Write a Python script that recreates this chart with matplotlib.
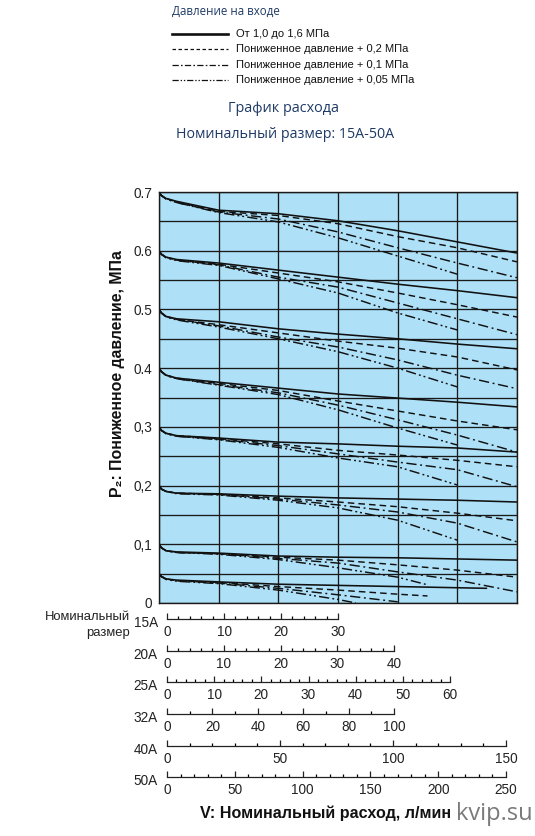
import matplotlib
matplotlib.use("Agg")
import matplotlib.pyplot as plt
from matplotlib.lines import Line2D

# ---------------- data ----------------
X_PTS = [0, 0.04, 0.12, 0.3, 1, 2, 3, 4, 5, 6]        # chart columns (grid units)
SET_PRESSURES = [0.7, 0.6, 0.5, 0.4, 0.3, 0.2, 0.1, 0.05]

G70 = {"solid":   [0.700, 0.694, 0.689, 0.684, 0.669, 0.663, 0.651, 0.634, 0.615, 0.596],
       "dashed":  [0.700, 0.694, 0.689, 0.683, 0.667, 0.660, 0.646, 0.624, 0.605, 0.581],
       "dashdot": [0.700, 0.694, 0.688, 0.682, 0.666, 0.654, 0.632, 0.605, 0.579, 0.554],
       "ddot":    [0.700, 0.694, 0.688, 0.682, 0.665, 0.649, 0.622, 0.591, 0.560]}
G60 = {"solid":   [0.600, 0.594, 0.589, 0.585, 0.579, 0.567, 0.555, 0.543, 0.532, 0.520],
       "dashed":  [0.600, 0.594, 0.589, 0.584, 0.577, 0.562, 0.547, 0.528, 0.508, 0.487],
       "dashdot": [0.600, 0.594, 0.588, 0.584, 0.576, 0.555, 0.538, 0.511, 0.484, 0.457],
       "ddot":    [0.600, 0.594, 0.588, 0.583, 0.575, 0.552, 0.528, 0.494, 0.465]}
G50 = {"solid":   [0.500, 0.494, 0.488, 0.484, 0.479, 0.467, 0.458, 0.450, 0.441, 0.433],
       "dashed":  [0.500, 0.494, 0.488, 0.483, 0.474, 0.460, 0.446, 0.434, 0.419, 0.397],
       "dashdot": [0.500, 0.494, 0.488, 0.483, 0.472, 0.453, 0.436, 0.414, 0.388, 0.365],
       "ddot":    [0.500, 0.494, 0.487, 0.482, 0.470, 0.450, 0.428, 0.400, 0.368]}
G40 = {"solid":   [0.400, 0.394, 0.388, 0.383, 0.376, 0.366, 0.356, 0.349, 0.342, 0.334],
       "dashed":  [0.400, 0.394, 0.388, 0.383, 0.374, 0.362, 0.344, 0.327, 0.310, 0.295],
       "dashdot": [0.400, 0.394, 0.388, 0.382, 0.372, 0.358, 0.337, 0.312, 0.286, 0.257],
       "ddot":    [0.400, 0.394, 0.387, 0.382, 0.371, 0.355, 0.329, 0.298, 0.269]}
G30 = {"solid":   [0.300, 0.294, 0.289, 0.285, 0.281, 0.274, 0.271, 0.267, 0.264, 0.257],
       "dashed":  [0.300, 0.294, 0.289, 0.285, 0.280, 0.271, 0.260, 0.252, 0.243, 0.232],
       "dashdot": [0.300, 0.294, 0.289, 0.284, 0.279, 0.268, 0.254, 0.240, 0.227, 0.198],
       "ddot":    [0.300, 0.294, 0.288, 0.284, 0.278, 0.265, 0.247, 0.232, 0.201]}
G20 = {"solid":   [0.200, 0.194, 0.190, 0.187, 0.186, 0.182, 0.179, 0.177, 0.175, 0.172],
       "dashed":  [0.200, 0.194, 0.190, 0.187, 0.185, 0.179, 0.172, 0.164, 0.153, 0.140],
       "dashdot": [0.200, 0.194, 0.190, 0.187, 0.185, 0.177, 0.167, 0.155, 0.136, 0.104],
       "ddot":    [0.200, 0.194, 0.190, 0.186, 0.184, 0.175, 0.162, 0.141, 0.107]}
G10 = {"solid":   [0.100, 0.094, 0.089, 0.087, 0.085, 0.080, 0.078, 0.077, 0.075, 0.073],
       "dashed":  [0.100, 0.094, 0.089, 0.086, 0.084, 0.078, 0.073, 0.065, 0.056, 0.044],
       "dashdot": [0.100, 0.094, 0.089, 0.086, 0.084, 0.076, 0.068, 0.053, 0.039, 0.019],
       "ddot":    [0.100, 0.094, 0.089, 0.086, 0.083, 0.074, 0.060, 0.044]}
G05 = {"solid":   [0.050, 0.045, 0.041, 0.039, 0.036, 0.032, 0.030, 0.028, 0.026],
       "dashed":  [0.050, 0.045, 0.041, 0.038, 0.035, 0.028, 0.022, 0.015],
       "dashdot": [0.050, 0.045, 0.041, 0.038, 0.034, 0.025, 0.014, 0.002],
       "ddot":    [0.050, 0.045, 0.040, 0.037, 0.033, 0.022, 0.006]}
# curves that end between grid columns: (end column, end pressure)
END_POINTS = {(0.1, "ddot"): (4.5, 0.031),
              (0.05, "solid"): (5.5, 0.025),
              (0.05, "dashed"): (4.5, 0.012),
              (0.05, "ddot"): (3.3, 0.000)}
GROUPS = [G70, G60, G50, G40, G30, G20, G10, G05]

Y_TICKS = [0, 0.1, 0.2, 0.3, 0.4, 0.5, 0.6, 0.7]
Y_TICK_LABELS = ["0", "0,1", "0,2", "0,3", "0.4", "0.5", "0.6", "0.7"]

SIZES = ["15A", "20A", "25A", "32A", "40A", "50A"]
SCALE_MAX = [30, 40, 60, 100, 150, 250]
SCALE_MAJOR = [10, 10, 10, 20, 50, 50]
SCALE_MINOR = [2, 2, 2, 10, 10, 10]

LEGEND_LABELS = ["От 1,0 до 1,6 МПа",
                 "Пониженное давление + 0,2 МПа",
                 "Пониженное давление + 0,1 МПа",
                 "Пониженное давление + 0,05 МПа"]

# ---------------- styles ----------------
W, H = 535, 836
BG = "#aee0f7"
NAVY = "#1e3a66"
STYLES = {"solid": dict(ls="-", lw=1.15),
          "dashed": dict(ls=(0, (4.5, 2.8)), lw=1.05),
          "dashdot": dict(ls=(0, (7, 2.5, 1.3, 2.5)), lw=1.05),
          "ddot": dict(ls=(0, (7, 2.2, 1.3, 2.0, 1.3, 2.2)), lw=1.05)}
ORDER = ["ddot", "dashdot", "dashed", "solid"]
SANS = ["Liberation Sans", "DejaVu Sans"]
OPEN = ["Open Sans", "DejaVu Sans"]


def fx(px):
    return px / W


def fy(py):
    return 1 - py / H


fig = plt.figure(figsize=(W / 100, H / 100), dpi=100)

# ---------------- main chart ----------------
L, R, T, B = 159, 517, 192, 603
ax = fig.add_axes([fx(L), fy(B), fx(R) - fx(L), fy(T) - fy(B)])
ax.set_facecolor(BG)
ax.set_xlim(0, 6)
ax.set_ylim(0, 0.7)
ax.set_yticks(Y_TICKS)
ax.set_yticklabels(Y_TICK_LABELS, family=SANS, fontsize=9.8, color="#222")
ax.set_yticks([0.05 + 0.1 * i for i in range(7)], minor=True)
ax.set_xticks(range(7))
ax.tick_params(axis="both", which="both", length=0)
ax.tick_params(axis="y", pad=5)
ax.tick_params(axis="x", labelbottom=False)
ax.grid(True, which="both", color="#1a1a1a", lw=0.95)
ax.set_axisbelow(True)
for s in ax.spines.values():
    s.set_color("#1a1a1a")
    s.set_linewidth(1.0)

for p, grp in zip(SET_PRESSURES, GROUPS):
    for key in ORDER:
        ys = list(grp[key])
        xs = list(X_PTS[:len(ys)])
        if (p, key) in END_POINTS:
            ex, ey = END_POINTS[(p, key)]
            xs.append(ex)
            ys.append(ey)
        ax.plot(xs, ys, color="#111", solid_capstyle="butt",
                dash_capstyle="butt", **STYLES[key])

fig.text(fx(118), fy(374), "P₂: Пониженное давление, МПа", rotation=90,
         ha="center", va="center", fontsize=11.4, fontweight="bold",
         family=SANS, color="#111")

# ---------------- flow scales ----------------
S0 = 167
BASE_Y = [619, 651, 682, 714, 746, 777]
END_X = [338, 394, 450, 394, 506, 506]
for name, mx, mj, mn, by, ex in zip(SIZES, SCALE_MAX, SCALE_MAJOR, SCALE_MINOR,
                                     BASE_Y, END_X):
    sa = fig.add_axes([fx(S0), fy(by), fx(ex) - fx(S0), 8 / H])
    sa.patch.set_visible(False)
    for k in ("top", "left", "right"):
        sa.spines[k].set_visible(False)
    sa.spines["bottom"].set_linewidth(0.9)
    sa.spines["bottom"].set_color("#222")
    sa.set_xlim(0, mx)
    sa.set_yticks([])
    sa.set_xticks(list(range(0, mx + 1, mj)))
    sa.set_xticks(list(range(0, mx + 1, mn)), minor=True)
    sa.tick_params(axis="x", which="major", direction="in", length=4.5,
                   width=0.9, pad=4.4, labelsize=9.8, colors="#222")
    sa.tick_params(axis="x", which="minor", direction="in", length=2.2,
                   width=0.9)
    for lb in sa.get_xticklabels():
        lb.set_family(SANS)
    fig.text(fx(158), fy(by + 4), name, ha="right", va="center",
             fontsize=9.8, family=SANS, color="#222")

fig.text(fx(130), fy(617), "Номинальный", ha="right", va="center",
         fontsize=9.4, family=SANS, color="#222")
fig.text(fx(130), fy(633), "размер", ha="right", va="center",
         fontsize=9.4, family=SANS, color="#222")

fig.text(fx(326), fy(813), "V: Номинальный расход, л/мин", ha="center",
         va="center", fontsize=11.6, fontweight="bold", family=SANS,
         color="#111")
fig.text(fx(494), fy(814), "kvip.su", ha="center", va="center",
         fontsize=17, family=OPEN, color="#7a7a7a")

# ---------------- header / legend ----------------
fig.text(fx(172), fy(11), "Давление на входе", ha="left", va="center",
         fontsize=8.3, family=OPEN, color=NAVY)
leg_y = [34, 49, 65, 80]
leg_styles = [dict(ls="-", lw=1.9),
              dict(ls=(0, (2.8, 2.0)), lw=0.9),
              dict(ls=(0, (5.0, 1.8, 1.3, 1.8)), lw=0.9),
              dict(ls=(0, (5.0, 1.5, 1.1, 1.5, 1.1, 1.5)), lw=0.9)]
for yy, st, lab in zip(leg_y, leg_styles, LEGEND_LABELS):
    fig.add_artist(Line2D([fx(172), fx(228)], [fy(yy), fy(yy)], color="#111",
                          transform=fig.transFigure, **st))
    fig.text(fx(236), fy(yy), lab, ha="left", va="center", fontsize=8.0,
             family=SANS, color="#111")

fig.text(fx(284), fy(108), "График расхода", ha="center", va="center",
         fontsize=10.4, family=OPEN, color=NAVY)
fig.text(fx(285), fy(135), "Номинальный размер: 15A-50A", ha="center",
         va="center", fontsize=10.3, family=OPEN, color=NAVY)

fig.savefig("out.png", dpi=100)
